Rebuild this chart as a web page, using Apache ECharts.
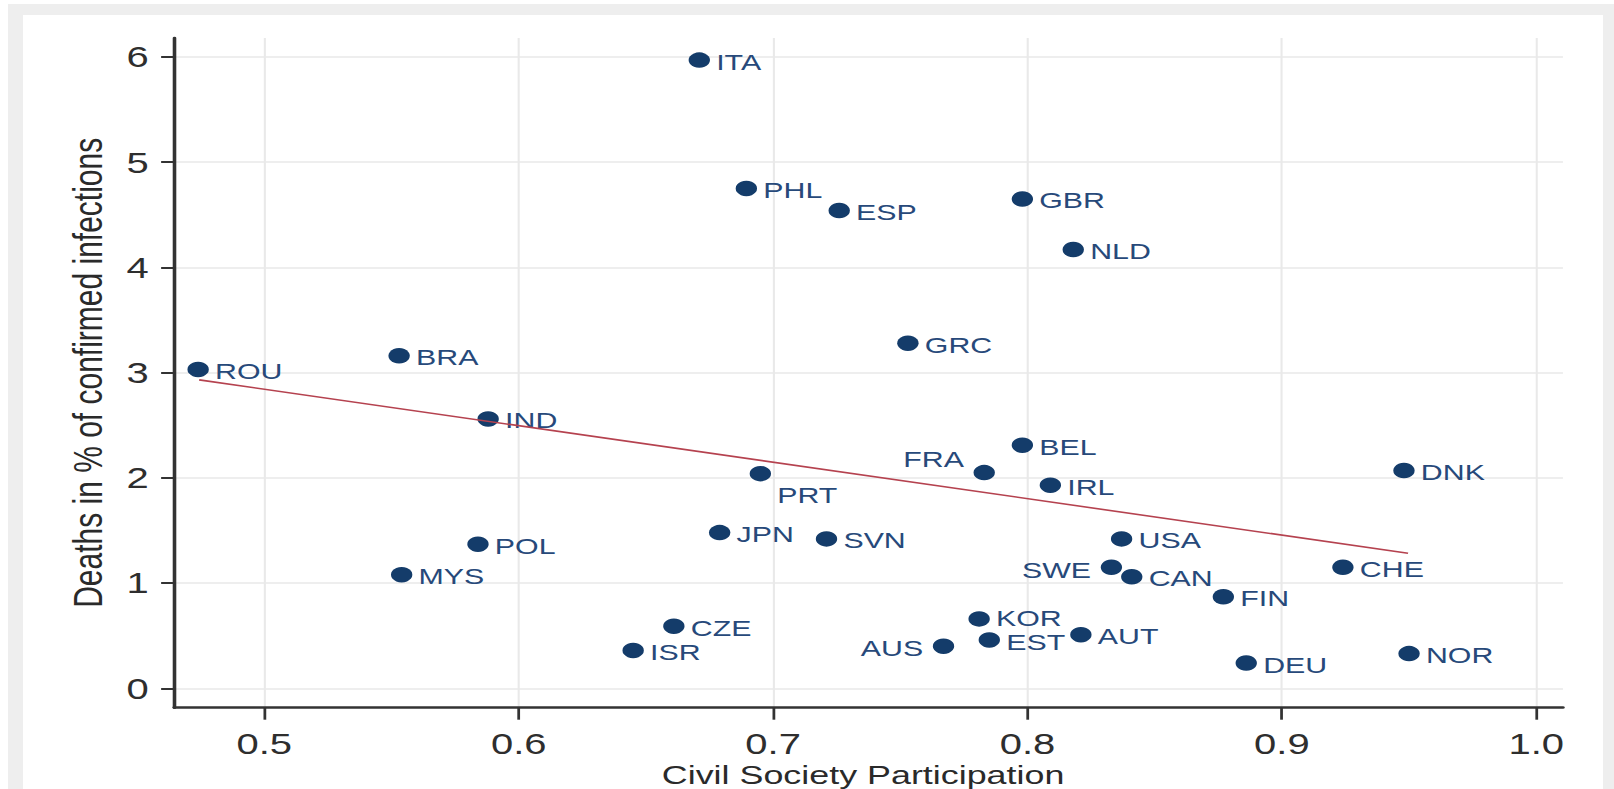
<!DOCTYPE html>
<html>
<head>
<meta charset="utf-8">
<script src="https://cdn.jsdelivr.net/npm/echarts@6/dist/echarts.min.js"></script>
<style>
html,body{margin:0;padding:0;width:1614px;height:789px;overflow:hidden;background:#ffffff;}
#frame{position:absolute;left:8px;top:4px;width:1606px;height:785px;background:#eeeeee;}
#panel{position:absolute;left:23px;top:15px;width:1580px;height:774px;background:#ffffff;}
#chart{position:absolute;left:0;top:0;width:1170px;height:789px;transform:scaleX(1.379487);transform-origin:0 0;}
</style>
</head>
<body>
<div id="frame"></div>
<div id="panel"></div>
<div id="chart"></div>
<script>
// ---- data ----
const countries = ['ITA','PHL','ESP','GBR','NLD','GRC','BRA','ROU','IND','BEL','FRA','DNK','PRT','IRL','USA','JPN','SVN','POL','CHE','SWE','CAN','MYS','FIN','KOR','CZE','AUT','EST','AUS','ISR','NOR','DEU'];
const civicParticipation = [0.671,0.6895,0.726,0.798,0.818,0.753,0.553,0.474,0.588,0.798,0.783,0.948,0.695,0.809,0.837,0.679,0.721,0.584,0.924,0.833,0.841,0.554,0.877,0.781,0.661,0.821,0.785,0.767,0.645,0.950,0.886];
const deathsPct = [5.97,4.75,4.54,4.65,4.17,3.28,3.16,3.03,2.56,2.31,2.05,2.07,2.04,1.93,1.42,1.48,1.42,1.37,1.15,1.15,1.06,1.08,0.87,0.66,0.59,0.51,0.46,0.40,0.36,0.33,0.24];
const fitX = [0.4744, 0.9496];
const fitY = [2.931, 1.284];
const xTicks = [0.5, 0.6, 0.7, 0.8, 0.9, 1.0];
const yTicks = [0, 1, 2, 3, 4, 5, 6];
const xTitle = 'Civil Society Participation';
const yTitle = 'Deaths in % of confirmed infections';

// ---- label placement styles (not data) ----
const labelPlacement = {
  PRT: {position: 'right', distance: 4.5, offset: [0, 22]},
  FRA: {position: 'left', distance: 7, offset: [0, -13]},
  AUS: {position: 'left', distance: 7, offset: [0, 2]},
  SWE: {position: 'left', distance: 7, offset: [0, 3]},
  KOR: {position: 'right', distance: 4.5, offset: [0, 0]},
  EST: {position: 'right', distance: 4.5, offset: [0, 3]}
};

const pointData = countries.map((c, i) => {
  const item = {name: c, value: [civicParticipation[i], deathsPct[i]]};
  if (labelPlacement[c]) item.label = labelPlacement[c];
  return item;
});
const fitData = fitX.map((x, i) => [x, fitY[i]]);

const chart = echarts.init(document.getElementById('chart'), null, {renderer: 'svg'});
const axisColor = '#333333';
const font = "'Liberation Sans', Arial, sans-serif";

chart.setOption({
  animation: false,
  backgroundColor: 'transparent',
  grid: {left: 126.3, right: 37, top: 38, bottom: 81.3, containLabel: false, outerBoundsMode: 'none'},
  xAxis: {
    type: 'value',
    min: 0.4646, max: 1.0105,
    name: xTitle,
    nameLocation: 'middle',
    nameGap: 43,
    nameTextStyle: {fontFamily: font, fontSize: 26, lineHeight: 26, color: '#2a2a2a', padding: [0, 8, 0, 0]},
    axisLine: {show: true, onZero: false, lineStyle: {color: axisColor, width: 2.6}},
    axisTick: {show: true, customValues: xTicks, length: 12, lineStyle: {color: axisColor, width: 2}},
    axisLabel: {customValues: xTicks, margin: 21, fontFamily: font, fontSize: 29, color: '#2e2e2e',
      formatter: v => Number(v).toFixed(1)},
    splitLine: {show: true, lineStyle: {color: '#e9e9e9', width: 1.5}}
  },
  yAxis: {
    type: 'value',
    min: -0.184, max: 6.18,
    name: yTitle,
    nameLocation: 'middle',
    nameGap: 48,
    nameTextStyle: {fontFamily: font, fontSize: 30, color: '#2a2a2a'},
    axisLine: {show: true, onZero: false, lineStyle: {color: axisColor, width: 2.6}},
    axisTick: {show: true, customValues: yTicks, length: 9.5, lineStyle: {color: axisColor, width: 2}},
    axisLabel: {customValues: yTicks, margin: 18.5, fontFamily: font, fontSize: 29, color: '#2e2e2e'},
    splitLine: {show: true, lineStyle: {color: '#e9e9e9', width: 1.5}}
  },
  series: [
    {
      type: 'scatter',
      data: pointData,
      symbol: 'circle',
      symbolSize: 15.5,
      itemStyle: {color: '#143c6a', opacity: 1},
      label: {
        show: true,
        position: 'right',
        distance: 4.5,
        offset: [0, 2],
        formatter: p => p.name,
        fontFamily: font,
        fontSize: 22,
        lineHeight: 20,
        color: '#27497a'
      },
      emphasis: {disabled: true},
      z: 3
    },
    {
      type: 'line',
      data: fitData,
      symbol: 'none',
      lineStyle: {color: '#b5424f', width: 1.6},
      z: 4
    }
  ]
});
</script>
</body>
</html>
